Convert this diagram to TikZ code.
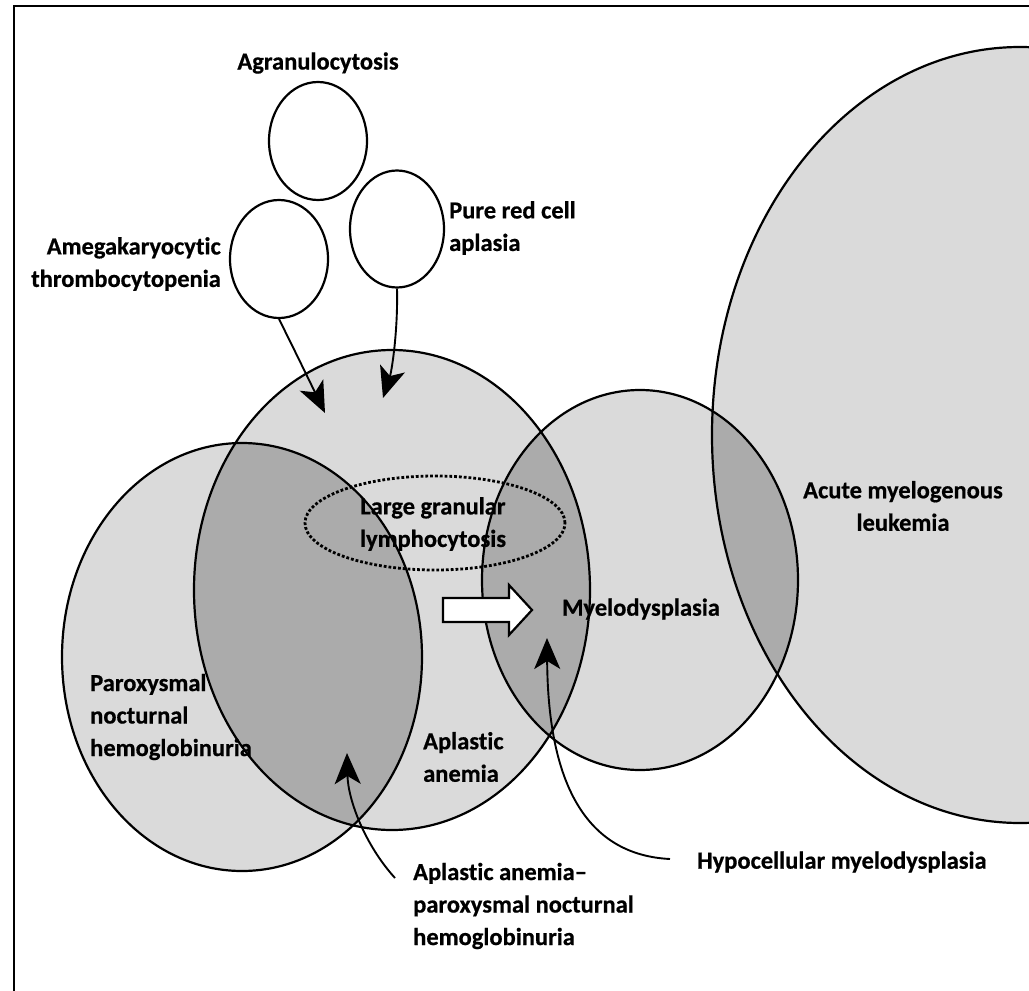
\documentclass[tikz,border=0pt]{standalone}
\usepackage{fontspec}
\setmainfont{Carlito}[Ligatures=NoCommon, BoldFeatures={FakeBold=0.6}]
\usetikzlibrary{arrows.meta,shapes.geometric}
\definecolor{lightfill}{gray}{0.855}
\definecolor{darkfill}{gray}{0.67}
\newcommand\shAplastic{(392,590) ellipse [x radius=198pt, y radius=240pt]}
\newcommand\shPnh{(242,657) ellipse [x radius=180pt, y radius=214pt]}
\newcommand\shMyelo{(640,580) ellipse [x radius=158pt, y radius=190pt]}
\newcommand\shAml{(1020,435) ellipse [x radius=308pt, y radius=388pt]}
\newcommand\shLgl{(435,523) ellipse [x radius=130pt, y radius=47pt]}
\tikzset{
  outline/.style={draw=black, line width=2.2pt},
  smallcirc/.style={ellipse, draw=black, line width=2.2pt, fill=white, minimum width=98pt, minimum height=118pt, inner sep=0pt},
  lbl/.style={inner sep=0pt, font=\fontsize{24.5}{32.5}\selectfont\bfseries},
  curvearrow/.style={line width=1.9pt, -{Stealth[length=31pt, width=26pt, inset=8pt]}},
}
\begin{document}
\begin{tikzpicture}[x=1pt, y=-1pt]
\useasboundingbox (0,0) rectangle (1029,991);
% fills
\fill[lightfill] \shAml;
\fill[lightfill] \shMyelo;
\fill[lightfill] \shPnh;
\fill[lightfill] \shAplastic;
\begin{scope}
  \clip \shAplastic;
  \fill[darkfill] \shPnh;
  \fill[darkfill] \shMyelo;
\end{scope}
\begin{scope}
  \clip \shMyelo;
  \fill[darkfill] \shAml;
\end{scope}
% outlines
\draw[outline] \shAml;
\draw[outline] \shMyelo;
\draw[outline] \shPnh;
\draw[outline] \shAplastic;
\draw[line width=2.8pt, dash pattern=on 2.8pt off 2pt] \shLgl;
% frame
\draw[line width=2.8pt] (14,991) -- (14,6) -- (1029,6);
% small circles
\node[smallcirc] (agr) at (318,141) {};
\node[smallcirc] (ame) at (279,259) {};
\node[smallcirc, minimum width=94pt, minimum height=117pt] (prc) at (397,229) {};
% hollow arrow
\draw[line width=2.2pt, fill=white] (443,598) -- (509,598) -- (509,585) -- (532,610) -- (509,635) -- (509,622) -- (443,622) -- cycle;
% arrow end points
\coordinate (ameTip) at (325,413);
\coordinate (prcTip) at (383,398);
\coordinate (aapStart) at (395,878);
\coordinate (aapTip) at (347,753);
\coordinate (hypStart) at (670,859);
\coordinate (hypTip) at (547,638);
\draw[curvearrow] (ame.south) .. controls (292,345) and (310,382) .. (ameTip);
\draw[curvearrow] (prc.south) .. controls (398,330) and (392,370) .. (prcTip);
\draw[curvearrow] (aapStart) .. controls (365,845) and (348,800) .. (aapTip);
\draw[curvearrow] (hypStart) .. controls (590,855) and (548,790) .. (hypTip);
% labels
\node[lbl] (tAgr) at (318,63) {Agranulocytosis};
\node[lbl, anchor=east, align=right] (tAme) at (221,264) {Amegakaryocytic\\thrombocytopenia};
\node[lbl, anchor=west, align=left] (tPrc) at (449,228) {Pure red cell\\aplasia};
\node[lbl, align=center] (tLgl) at (433,524) {Large granular\\lymphocytosis};
\node[lbl] (tMyelo) at (641,609) {Myelodysplasia};
\node[lbl, align=center] (tAml) at (903,506) {Acute myelogenous\\leukemia};
\node[lbl, anchor=west, align=left] (tPnh) at (90,717) {Paroxysmal\\nocturnal\\hemoglobinuria};
\node[lbl, anchor=west, align=left] (tAa) at (423,757) {Aplastic\\anemia};
\node[lbl, anchor=west, align=left] (tAap) at (413,906) {Aplastic anemia–\\paroxysmal nocturnal\\hemoglobinuria};
\node[lbl, anchor=west] (tHyp) at (697,862) {Hypocellular myelodysplasia};
\end{tikzpicture}
\end{document}
